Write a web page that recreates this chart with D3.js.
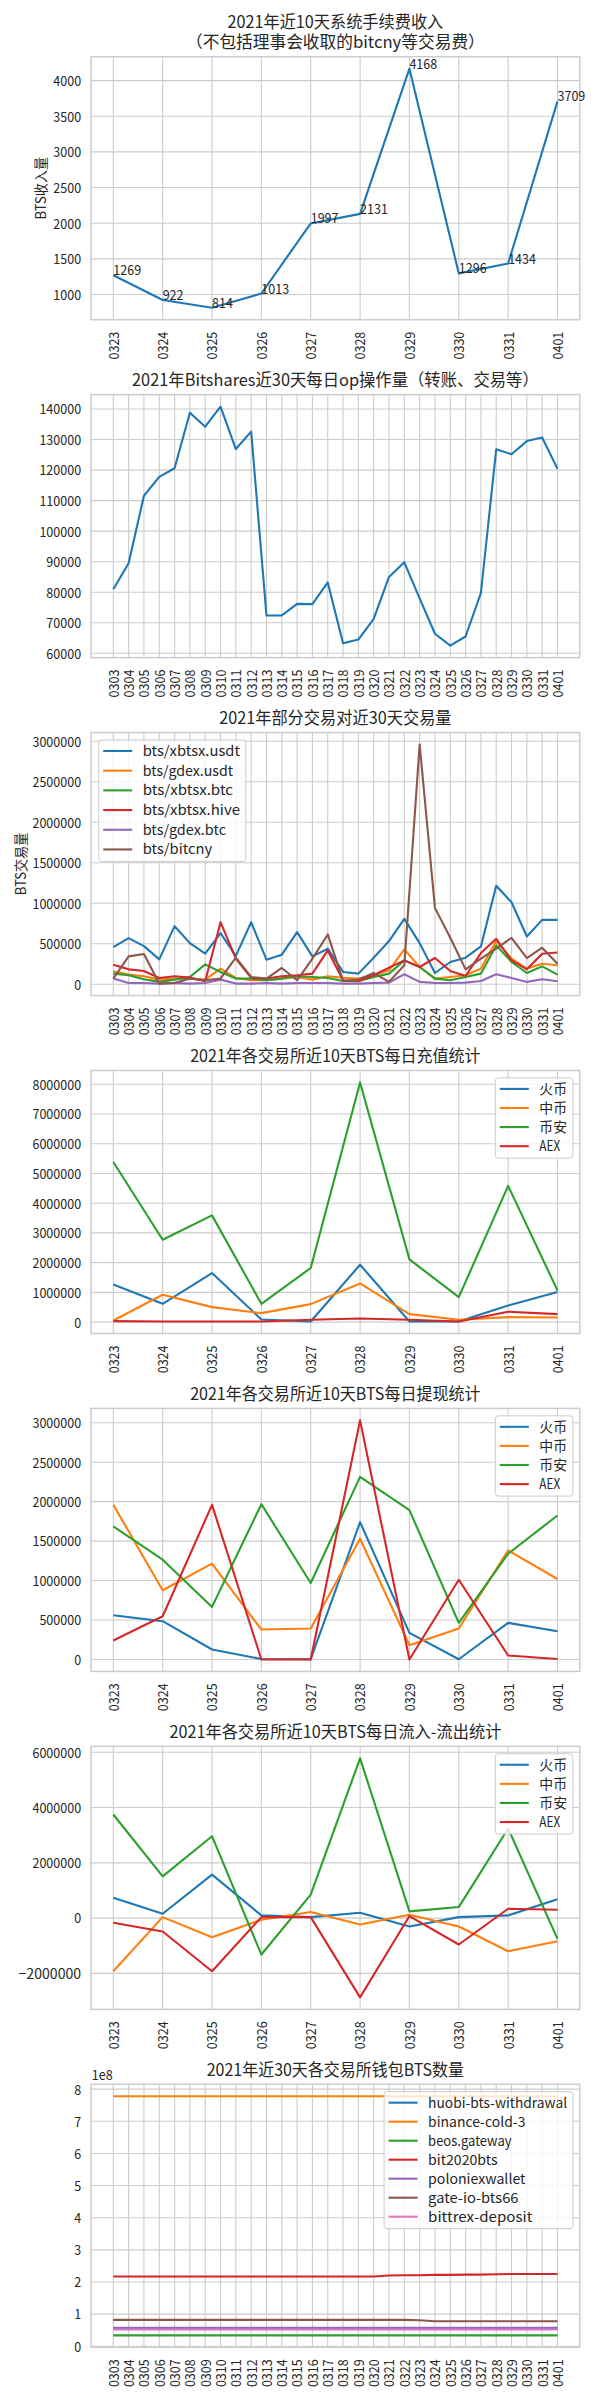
<!DOCTYPE html>
<html><head><meta charset="utf-8">
<script src="https://cdn.jsdelivr.net/npm/d3@7"></script>
<style>
body{margin:0;background:#fff;}
svg text{font-family:"Noto Sans CJK SC","Noto Sans",sans-serif;fill:#262626;}
</style></head><body>
<svg id="c" width="600" height="2400"></svg>
<script>
// ---------- data ----------
const days10 = ["0323","0324","0325","0326","0327","0328","0329","0330","0331","0401"];
const days30 = ["0303","0304","0305","0306","0307","0308","0309","0310","0311","0312","0313","0314","0315","0316","0317","0318","0319","0320","0321","0322","0323","0324","0325","0326","0327","0328","0329","0330","0331","0401"];

const feeIncome = [1269, 922, 814, 1013, 1997, 2131, 4168, 1296, 1434, 3709];
const feeTicks = [1000, 1500, 2000, 2500, 3000, 3500, 4000];

const opCount = [81000, 89500, 111600, 117800, 120600, 138800, 134200, 140800, 126900, 132600, 72400, 72400, 76200, 76100, 83200, 63300, 64500, 71300, 85000, 89800, 78000, 66400, 62500, 65500, 79800, 126800, 125200, 129500, 130700, 120400];
const opTicks = [60000, 70000, 80000, 90000, 100000, 110000, 120000, 130000, 140000];

const pairNames = ["bts/xbtsx.usdt", "bts/gdex.usdt", "bts/xbtsx.btc", "bts/xbtsx.hive", "bts/gdex.btc", "bts/bitcny"];
const volXbtsxUsdt = [459000, 570000, 471000, 307000, 717000, 508000, 377000, 631000, 350000, 766000, 303000, 365000, 643000, 344000, 439000, 152000, 131000, 328000, 533000, 807000, 508000, 139000, 275000, 328000, 467000, 1217000, 1012000, 590000, 795000, 795000];
const volGdexUsdt = [160000, 119000, 98000, 57000, 70000, 70000, 57000, 193000, 78000, 49000, 49000, 70000, 90000, 57000, 98000, 80000, 70000, 111000, 172000, 430000, 213000, 70000, 90000, 111000, 193000, 533000, 316000, 193000, 254000, 234000];
const volXbtsxBtc = [131000, 111000, 61000, 29000, 57000, 90000, 246000, 152000, 70000, 70000, 49000, 70000, 98000, 90000, 78000, 41000, 37000, 90000, 131000, 295000, 213000, 70000, 49000, 90000, 131000, 480000, 275000, 139000, 221000, 119000];
const volXbtsxHive = [242000, 184000, 164000, 78000, 98000, 82000, 37000, 766000, 316000, 78000, 70000, 98000, 111000, 131000, 418000, 49000, 41000, 111000, 205000, 295000, 213000, 324000, 164000, 102000, 385000, 561000, 295000, 184000, 377000, 393000];
const volGdexBtc = [70000, 16000, 16000, 8000, 16000, 8000, 16000, 57000, 8000, 8000, 16000, 8000, 16000, 16000, 16000, 8000, 8000, 16000, 20000, 123000, 29000, 16000, 16000, 20000, 41000, 123000, 78000, 29000, 61000, 37000];
const volBitcny = [70000, 344000, 373000, 8000, 16000, 70000, 49000, 70000, 328000, 90000, 70000, 201000, 49000, 316000, 615000, 41000, 57000, 139000, 29000, 234000, 2960000, 943000, 574000, 184000, 316000, 439000, 574000, 324000, 451000, 254000];
const volTicks = [0, 500000, 1000000, 1500000, 2000000, 2500000, 3000000];

const exchNames = ["火币", "中币", "币安", "AEX"];
const depHuobi = [1268000, 617000, 1649000, 90000, 20000, 1930000, 20000, 20000, 560000, 1010000];
const depZb = [56000, 920000, 505000, 303000, 606000, 1300000, 270000, 80000, 168000, 157000];
const depBinance = [5386000, 2770000, 3590000, 617000, 1820000, 8060000, 2110000, 840000, 4580000, 1066000];
const depAex = [34000, 22000, 22000, 20000, 80000, 123000, 80000, 20000, 350000, 270000];
const depTicks = [0, 1000000, 2000000, 3000000, 4000000, 5000000, 6000000, 7000000, 8000000];

const wdHuobi = [560000, 485000, 126000, 5000, 3000, 1740000, 337000, 3000, 464000, 358000];
const wdZb = [1960000, 877000, 1214000, 379000, 392000, 1530000, 181000, 392000, 1382000, 1020000];
const wdBinance = [1686000, 1264000, 666000, 1968000, 969000, 2314000, 1892000, 464000, 1340000, 1825000];
const wdAex = [240000, 548000, 1960000, 0, 0, 3030000, 0, 1010000, 50000, 5000];
const wdTicks = [0, 500000, 1000000, 1500000, 2000000, 2500000, 3000000];

const netHuobi = [738000, 157000, 1573000, 97000, 36000, 194000, -302000, 36000, 97000, 678000];
const netZb = [-1924000, 36000, -690000, -60000, 218000, -230000, 121000, -302000, -1198000, -835000];
const netBinance = [3750000, 1510000, 2964000, -1319000, 847000, 5783000, 242000, 399000, 3243000, -750000];
const netAex = [-169000, -484000, -1924000, 36000, 36000, -2870000, 73000, -956000, 339000, 302000];
const netTicks = [-2000000, 0, 2000000, 4000000, 6000000];

const walletNames = ["huobi-bts-withdrawal", "binance-cold-3", "beos.gateway", "bit2020bts", "poloniexwallet", "gate-io-bts66", "bittrex-deposit"];
const walHuobi = [57e6,57e6,57e6,57e6,57e6,57e6,57e6,57e6,57e6,57e6,57e6,57e6,57e6,57e6,57e6,57e6,57e6,57e6,57e6,57e6,57e6,57e6,57e6,57e6,57e6,57e6,57e6,57e6,57e6,57e6];
const walBinance = [778e6,778e6,778e6,778e6,778e6,778e6,778e6,778e6,778e6,778e6,778e6,778e6,778e6,778e6,778e6,778e6,778e6,778e6,778e6,778e6,778e6,778e6,778e6,778e6,778e6,778e6,778e6,778e6,778e6,778e6];
const walBeos = [34e6,34e6,34e6,34e6,34e6,34e6,34e6,34e6,34e6,34e6,34e6,34e6,34e6,34e6,34e6,34e6,34e6,34e6,34e6,34e6,34e6,34e6,34e6,34e6,34e6,34e6,34e6,34e6,34e6,34e6];
const walBit2020 = [217e6,217e6,217e6,217e6,217e6,217e6,217e6,217e6,217e6,217e6,217e6,217e6,217e6,217e6,217e6,217e6,217e6,217e6,220e6,221e6,221e6,222e6,222e6,223e6,223e6,224e6,225e6,225e6,225e6,225e6];
const walPoloniex = [57.5e6,57.5e6,57.5e6,57.5e6,57.5e6,57.5e6,57.5e6,57.5e6,57.5e6,57.5e6,57.5e6,57.5e6,57.5e6,57.5e6,57.5e6,57.5e6,57.5e6,57.5e6,57.5e6,57.5e6,57.5e6,57.5e6,57.5e6,57.5e6,57.5e6,57.5e6,57.5e6,57.5e6,57.5e6,57.5e6];
const walGate = [82e6,82e6,82e6,82e6,82e6,82e6,82e6,82e6,82e6,82e6,82e6,82e6,82e6,82e6,82e6,82e6,82e6,82e6,82e6,82e6,81e6,78e6,78e6,78e6,78e6,78e6,78e6,78e6,78e6,78e6];
const walBittrex = [52e6,52e6,52e6,52e6,52e6,52e6,52e6,52e6,52e6,52e6,52e6,52e6,52e6,52e6,52e6,52e6,52e6,52e6,52e6,52e6,52e6,52e6,52e6,52e6,52e6,52e6,52e6,52e6,52e6,52e6];
const walTicks = [0, 1e8, 2e8, 3e8, 4e8, 5e8, 6e8, 7e8, 8e8];

// ---------- layout / style ----------
const PAL = ["#1f77b4", "#ff7f0e", "#2ca02c", "#d62728", "#9467bd", "#8c564b", "#e377c2"];
const L = 91.1, R = 579.7, TOP0 = 56.7, STEP = 337.93, H = 263;
const FS = 13.9, TFS = 16.6;
const GRID = "#cccccc";
const svg = d3.select("#c");

function simW(s, fs) { let u = 0; for (const ch of s) u += ch.charCodeAt(0) < 0x2000 ? 0.5 : 1; return u * fs; }
function fit(sel, fs) {
  sel.each(function () {
    d3.select(this).attr("textLength", simW(this.textContent, fs)).attr("lengthAdjust", "spacingAndGlyphs");
  });
}

function panel(idx, cfg) {
  const top = TOP0 + idx * STEP, bottom = top + H;
  const g = svg.append("g");
  const n = cfg.cats.length;
  const x = d3.scalePoint().domain(cfg.cats).range([L, R]).padding(0.05 * (n - 1));
  const all = cfg.series.flatMap(s => s.values);
  const [lo, hi] = d3.extent(all);
  const m = 0.05 * (hi - lo);
  const y = d3.scaleLinear().domain([lo - m, hi + m]).range([bottom, top]);

  // grid
  g.append("g").selectAll("line").data(cfg.cats).join("line")
    .attr("x1", d => x(d)).attr("x2", d => x(d)).attr("y1", top).attr("y2", bottom)
    .attr("stroke", GRID).attr("stroke-width", 1.1);
  g.append("g").selectAll("line").data(cfg.yTicks).join("line")
    .attr("x1", L).attr("x2", R).attr("y1", d => y(d)).attr("y2", d => y(d))
    .attr("stroke", GRID).attr("stroke-width", 1.1);
  g.append("rect").attr("x", L).attr("y", top).attr("width", R - L).attr("height", H)
    .attr("fill", "none").attr("stroke", GRID).attr("stroke-width", 1.5);

  // axes
  const ya = g.append("g").attr("transform", `translate(${L},0)`)
    .call(d3.axisLeft(y).tickValues(cfg.yTicks).tickSize(0).tickPadding(10).tickFormat(cfg.fmt || d3.format("d")));
  ya.select(".domain").remove();
  ya.selectAll("text").attr("font-size", FS).attr("dy", "0.35em").call(fit, FS);

  const xa = g.append("g").attr("transform", `translate(0,${bottom})`)
    .call(d3.axisBottom(x).tickSize(0));
  xa.select(".domain").remove();
  xa.selectAll("text").attr("transform", "rotate(-90)").attr("x", -12).attr("y", 0)
    .attr("dy", "0.35em").attr("text-anchor", "end").attr("font-size", FS).call(fit, FS);

  // lines
  const line = d3.line().x((d, i) => x(cfg.cats[i])).y(d => y(d));
  g.append("g").selectAll("path").data(cfg.series).join("path")
    .attr("d", s => line(s.values)).attr("fill", "none").attr("stroke", s => s.color)
    .attr("stroke-width", 2.1).attr("stroke-linejoin", "round");

  // data labels
  if (cfg.labels) {
    const s0 = cfg.series[0];
    g.append("g").selectAll("text").data(s0.values).join("text")
      .attr("x", (d, i) => x(cfg.cats[i])).attr("y", d => y(d))
      .attr("font-size", FS).text(d => String(d)).call(fit, FS);
  }

  // title
  const tl = cfg.title;
  tl.forEach((t, k) => {
    g.append("text").attr("x", (L + R) / 2).attr("y", top - 8.3 - (tl.length - 1 - k) * 20)
      .attr("text-anchor", "middle").attr("font-size", TFS).text(t).call(fit, TFS);
  });

  // y label
  if (cfg.ylabel) {
    g.append("text").attr("transform", `translate(${cfg.ylabelX},${(top + bottom) / 2}) rotate(-90)`)
      .attr("text-anchor", "middle").attr("dy", "0.35em").attr("font-size", FS)
      .text(cfg.ylabel).call(fit, FS);
  }

  // offset text
  if (cfg.offsetText) {
    g.append("text").attr("x", L + 0.7).attr("y", top - 4.3).attr("font-size", FS)
      .text(cfg.offsetText).call(fit, FS);
  }

  // legend
  if (cfg.legend) {
    const lg = cfg.legend;
    const names = cfg.series.map(s => s.name);
    const tw = d3.max(names, s => simW(s, FS));
    const bw = 49.8 + tw;
    const rowH = lg.rowH;
    const bh = 23 + (names.length - 1) * rowH;
    const bx = lg.side === "left" ? L + 7.6 : R - 6.8 - bw;
    const by = top + 7.4;
    const lgG = g.append("g");
    lgG.append("rect").attr("x", bx).attr("y", by).attr("width", bw).attr("height", bh)
      .attr("rx", 3).attr("fill", "#fff").attr("fill-opacity", 0.8)
      .attr("stroke", GRID).attr("stroke-width", 1);
    const rows = lgG.selectAll("g.row").data(cfg.series).join("g").attr("class", "row")
      .attr("transform", (d, i) => `translate(${bx},${by + 11 + i * rowH})`);
    rows.append("line").attr("x1", 4.5).attr("x2", 33.5).attr("y1", 0).attr("y2", 0)
      .attr("stroke", d => d.color).attr("stroke-width", 2.1);
    rows.append("text").attr("x", 44).attr("y", 0).attr("dy", "0.35em").attr("font-size", FS)
      .text(d => d.name).call(fit, FS);
  }
}

// ---------- panels ----------
panel(0, {
  cats: days10, yTicks: feeTicks, labels: true,
  title: ["2021年近10天系统手续费收入", "（不包括理事会收取的bitcny等交易费）"],
  ylabel: "BTS收入量", ylabelX: 41.3,
  series: [{ name: "fee", values: feeIncome, color: PAL[0] }]
});

panel(1, {
  cats: days30, yTicks: opTicks,
  title: ["2021年Bitshares近30天每日op操作量（转账、交易等）"],
  series: [{ name: "op", values: opCount, color: PAL[0] }]
});

panel(2, {
  cats: days30, yTicks: volTicks,
  title: ["2021年部分交易对近30天交易量"],
  ylabel: "BTS交易量", ylabelX: 21,
  legend: { side: "left", rowH: 19.7 },
  series: [volXbtsxUsdt, volGdexUsdt, volXbtsxBtc, volXbtsxHive, volGdexBtc, volBitcny]
    .map((v, i) => ({ name: pairNames[i], values: v, color: PAL[i] }))
});

panel(3, {
  cats: days10, yTicks: depTicks,
  title: ["2021年各交易所近10天BTS每日充值统计"],
  legend: { side: "right", rowH: 19.1 },
  series: [depHuobi, depZb, depBinance, depAex].map((v, i) => ({ name: exchNames[i], values: v, color: PAL[i] }))
});

panel(4, {
  cats: days10, yTicks: wdTicks,
  title: ["2021年各交易所近10天BTS每日提现统计"],
  legend: { side: "right", rowH: 19.1 },
  series: [wdHuobi, wdZb, wdBinance, wdAex].map((v, i) => ({ name: exchNames[i], values: v, color: PAL[i] }))
});

panel(5, {
  cats: days10, yTicks: netTicks,
  title: ["2021年各交易所近10天BTS每日流入-流出统计"],
  legend: { side: "right", rowH: 19.1 },
  series: [netHuobi, netZb, netBinance, netAex].map((v, i) => ({ name: exchNames[i], values: v, color: PAL[i] }))
});

panel(6, {
  cats: days30, yTicks: walTicks, fmt: d => String(Math.round(d / 1e8)),
  title: ["2021年近30天各交易所钱包BTS数量"],
  offsetText: "1e8",
  legend: { side: "right", rowH: 19.0 },
  series: [walHuobi, walBinance, walBeos, walBit2020, walPoloniex, walGate, walBittrex]
    .map((v, i) => ({ name: walletNames[i], values: v, color: PAL[i] }))
});
</script>
</body></html>
